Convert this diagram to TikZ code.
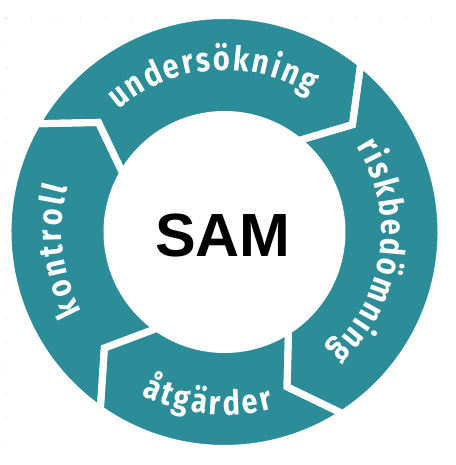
\documentclass[tikz,border=0pt]{standalone}
\usepackage{fontspec}
\usepackage{tikz}
\usetikzlibrary{decorations.text}
\setmainfont{Liberation Sans}
\newfontfamily\ringfont[FakeStretch=0.85]{Fira Sans}
\definecolor{ring}{HTML}{2C8D98}
\definecolor{dotgray}{HTML}{BDBDBD}
\newcommand\ringlabel{\ringfont\bfseries\fontsize{34}{36}\selectfont}
\tikzset{
  arrowpart/.style={fill=ring},
  gapline/.style={draw=white, line width=7pt, line join=miter},
  ringtext/.style={decorate, decoration={text along path, text align={fit to path},
                   text color=white, text={#1}}},
  griddot/.style={fill=dotgray}
}
\begin{document}
\begin{tikzpicture}[x=1pt,y=1pt]
  \useasboundingbox (-224.5,-233) rectangle (230.5,232);
  % four arrows round the ring, clockwise (tail/head angles)
  \foreach \t/\h in {235/150,150/51,51/-57,-57/-125} {
    \fill[arrowpart] (\t:216.5) arc[start angle=\t, end angle=\h, radius=216.5]
      -- ({\h-11}:167) -- (\h:117.5) arc[start angle=\h, end angle=\t, radius=117.5]
      -- ({\t-11}:167) -- cycle;
  }
  % white gaps between the arrows
  \foreach \t/\h in {235/150,150/51,51/-57,-57/-125} {
    \draw[gapline] (\t:216.5) arc[start angle=\t, end angle=\h, radius=216.5]
      -- ({\h-11}:167) -- (\h:117.5) arc[start angle=\h, end angle=\t, radius=117.5]
      -- ({\t-11}:167) -- cycle;
  }
  % labels bent along the ring
  \path[ringtext={|\ringlabel|undersökning}] (131:162) arc[start angle=131, end angle=58, radius=162];
  \path[ringtext={|\ringlabel|riskbedömning}] (33:157) arc[start angle=33, end angle=-49, radius=157];
  \path[ringtext={|\ringlabel|åtgärder}] (-117:183) arc[start angle=-117, end angle=-74.5, radius=183];
  \path[ringtext={|\ringlabel|kontroll}] (209:163) arc[start angle=209, end angle=164, radius=163];
  \node[font=\bfseries\fontsize{61}{61}\selectfont, anchor=base] (sam) at (-1.5,-25) {SAM};
  % faint dots along the top and left edge
  \foreach \k in {0,...,17} {
    \fill[griddot] ({6+25*\k-224.5},214) circle (0.7);
    \fill[griddot] (-218.5,{214-25*\k}) circle (0.7);
  }
\end{tikzpicture}
\end{document}
